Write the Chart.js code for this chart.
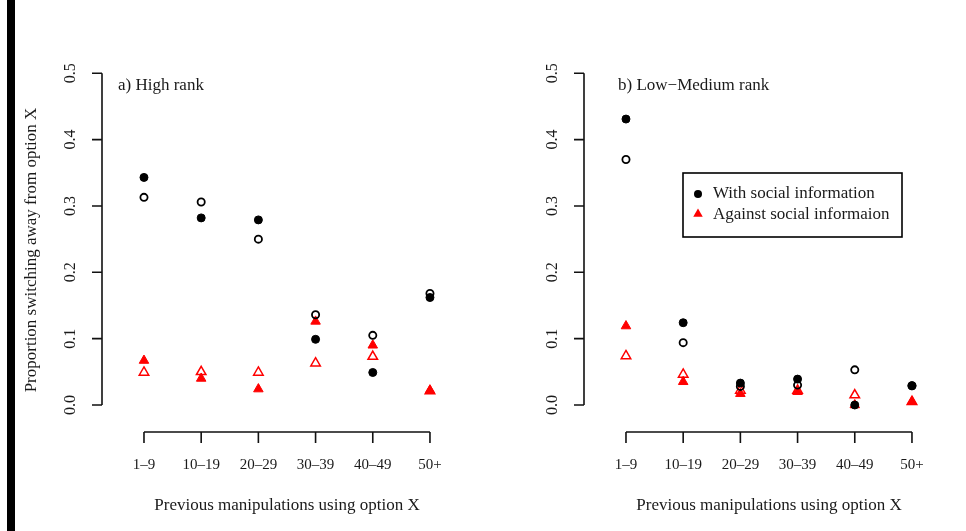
<!DOCTYPE html>
<html>
<head>
<meta charset="utf-8">
<script src="https://cdn.jsdelivr.net/npm/chart.js@4"></script>
<style>
  body { margin: 0; background: #fff; }
  #wrap { position: relative; width: 966px; height: 531px; overflow: hidden; }
  #bar { position: absolute; left: 7px; top: 0; width: 8px; height: 531px; background: #000; }
  canvas { position: absolute; top: 0; }
</style>
</head>
<body>
<div id="wrap">
  <div id="bar"></div>
  <canvas id="high" width="483" height="531" style="left:0"></canvas>
  <canvas id="low" width="483" height="531" style="left:483px"></canvas>
</div>
<script>
// categories and tick labels
const categories = ["1\u20139", "10\u201319", "20\u201329", "30\u201339", "40\u201349", "50+"];
const yTicks = [0.0, 0.1, 0.2, 0.3, 0.4, 0.5];

// a) High rank
const highWithFilled = [0.343, 0.282, 0.279, 0.099, 0.049, 0.162];
const highWithOpen = [0.313, 0.306, 0.250, 0.136, 0.105, 0.168];
const highAgainstFilled = [0.067, 0.040, 0.024, 0.126, 0.090, 0.022];
const highAgainstOpen = [0.049, 0.050, 0.049, 0.063, 0.073, 0.021];

// b) Low-Medium rank
const lowWithFilled = [0.431, 0.124, 0.033, 0.039, 0.0, 0.029];
const lowWithOpen = [0.370, 0.094, 0.028, 0.030, 0.053, 0.029];
const lowAgainstFilled = [0.119, 0.035, 0.017, 0.020, 0.0, 0.005];
const lowAgainstOpen = [0.074, 0.046, 0.022, 0.022, 0.015, 0.005];

const FONT = '"Liberation Serif", "Times New Roman", serif';
const RED = "#ff0000";
const INK = "#1a1a1a";

function pts(arr) {
  return arr.map((v, i) => ({ x: i + 1, y: v }));
}

function datasets(wf, wo, af, ao) {
  return [
    { label: "With social information", data: pts(wf), pointStyle: "circle",
      pointRadius: 4, backgroundColor: "#000", borderColor: "#000", borderWidth: 1 },
    { label: "With social information (open)", data: pts(wo), pointStyle: "circle",
      pointRadius: 3.6, backgroundColor: "rgba(0,0,0,0)", borderColor: "#000", borderWidth: 1.8 },
    { label: "Against social informaion", data: pts(af), pointStyle: "triangle",
      pointRadius: 5.5, backgroundColor: RED, borderColor: RED, borderWidth: 1 },
    { label: "Against social informaion (open)", data: pts(ao), pointStyle: "triangle",
      pointRadius: 5.5, backgroundColor: "rgba(0,0,0,0)", borderColor: RED, borderWidth: 1.5 },
  ];
}

// R style axes drawn from the chart's own scales
const rAxes = {
  id: "rAxes",
  afterDraw(chart, args, opts) {
    const { ctx, chartArea } = chart;
    const x = chart.scales.x, y = chart.scales.y;
    ctx.save();
    ctx.strokeStyle = "#111";
    ctx.fillStyle = INK;
    ctx.lineWidth = 1.6;

    // y axis
    const ax = chartArea.left;
    ctx.beginPath();
    ctx.moveTo(ax, y.getPixelForValue(yTicks[0]));
    ctx.lineTo(ax, y.getPixelForValue(yTicks[yTicks.length - 1]));
    yTicks.forEach((v) => {
      const py = y.getPixelForValue(v);
      ctx.moveTo(ax - 10, py);
      ctx.lineTo(ax, py);
    });
    ctx.stroke();
    ctx.font = "16px " + FONT;
    ctx.textAlign = "center";
    ctx.textBaseline = "middle";
    yTicks.forEach((v) => {
      const py = y.getPixelForValue(v);
      ctx.save();
      ctx.translate(ax - 31, py);
      ctx.rotate(-Math.PI / 2);
      ctx.fillText(v.toFixed(1), 0, 0);
      ctx.restore();
    });

    // x axis
    const by = chartArea.bottom;
    ctx.beginPath();
    ctx.moveTo(x.getPixelForValue(1), by);
    ctx.lineTo(x.getPixelForValue(categories.length), by);
    categories.forEach((c, i) => {
      const px = x.getPixelForValue(i + 1);
      ctx.moveTo(px, by);
      ctx.lineTo(px, by + 11);
    });
    ctx.stroke();
    ctx.font = "15px " + FONT;
    categories.forEach((c, i) => {
      ctx.fillText(c, x.getPixelForValue(i + 1), by + 33);
    });
    ctx.font = "17px " + FONT;
    const mid = (x.getPixelForValue(1) + x.getPixelForValue(categories.length)) / 2;
    ctx.fillText("Previous manipulations using option X", mid, by + 74);

    // panel title
    ctx.textAlign = "left";
    ctx.font = "17px " + FONT;
    ctx.fillText(opts.title, ax + opts.titleDx, 86);

    // y axis title
    if (opts.yTitle) {
      ctx.save();
      ctx.translate(32, 250);
      ctx.rotate(-Math.PI / 2);
      ctx.textAlign = "center";
      ctx.fillText(opts.yTitle, 0, 0);
      ctx.restore();
    }

    // legend
    if (opts.legend) {
      const L = opts.legend;
      ctx.lineWidth = 1.6;
      ctx.strokeStyle = "#000";
      ctx.strokeRect(L.x, L.y, L.w, L.h);
      ctx.fillStyle = "#000";
      ctx.beginPath();
      ctx.arc(L.x + 15, L.y + 21, 4, 0, Math.PI * 2);
      ctx.fill();
      ctx.fillStyle = RED;
      ctx.beginPath();
      const tx = L.x + 15, ty = L.y + 41, r = 5.5;
      ctx.moveTo(tx, ty - r);
      ctx.lineTo(tx + r * 0.866, ty + r * 0.5);
      ctx.lineTo(tx - r * 0.866, ty + r * 0.5);
      ctx.closePath();
      ctx.fill();
      ctx.fillStyle = INK;
      ctx.font = "17px " + FONT;
      ctx.textBaseline = "middle";
      ctx.fillText("With social information", L.x + 30, L.y + 21);
      ctx.fillText("Against social informaion", L.x + 30, L.y + 42);
    }
    ctx.restore();
  },
};

function makeChart(id, data, opts) {
  return new Chart(document.getElementById(id), {
    type: "scatter",
    data: { datasets: data },
    plugins: [rAxes],
    options: {
      responsive: false,
      animation: false,
      devicePixelRatio: 1,
      clip: false,
      layout: { padding: { left: opts.padLeft, right: 483 - opts.padLeft - 364, top: 60, bottom: 99 } },
      scales: {
        x: { type: "linear", display: false, min: 0.266, max: 6.63 },
        y: { type: "linear", display: false, min: -0.0407, max: 0.52 },
      },
      plugins: {
        legend: { display: false },
        tooltip: { enabled: false },
        rAxes: opts.axes,
      },
    },
  });
}

makeChart("high", datasets(highWithFilled, highWithOpen, highAgainstFilled, highAgainstOpen), {
  padLeft: 102,
  axes: { title: "a) High rank", titleDx: 16, yTitle: "Proportion switching away from option X" },
});

makeChart("low", datasets(lowWithFilled, lowWithOpen, lowAgainstFilled, lowAgainstOpen), {
  padLeft: 101,
  axes: { title: "b) Low\u2212Medium rank", titleDx: 34,
    legend: { x: 683 - 483, y: 173, w: 219, h: 64 } },
});
</script>
</body>
</html>
